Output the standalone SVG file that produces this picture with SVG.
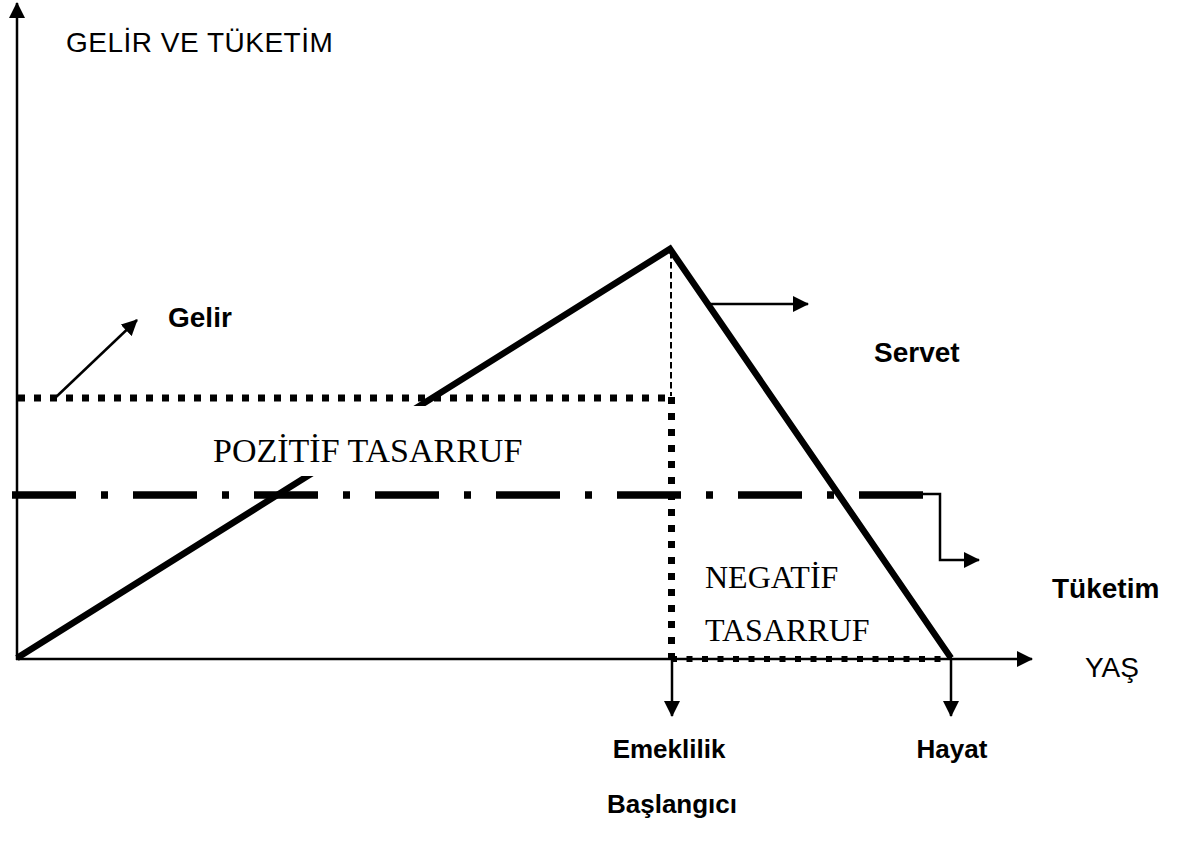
<svg xmlns="http://www.w3.org/2000/svg" width="1193" height="843" viewBox="0 0 1193 843">
<style>
.ax{stroke:#000;stroke-width:2.5;fill:none}
.thin{stroke:#000;stroke-width:2.5;fill:none}
.thick{stroke:#000;stroke-width:6.5;fill:none;stroke-linejoin:miter}
.dot{stroke:#000;stroke-width:7;fill:none;stroke-dasharray:7 9}
.dash{stroke:#000;stroke-width:2;fill:none;stroke-dasharray:6.5 3.5}
.dd{stroke:#000;stroke-width:7.5;fill:none;stroke-dasharray:64 25 7 25}
.sans{font-family:"Liberation Sans",Arial,sans-serif;font-size:28px;fill:#000}
.b{font-weight:bold}
.sm{font-size:26px}
.serif{font-family:"Liberation Serif","Times New Roman",serif;font-size:32px;fill:#000}
.big{font-size:34px}
</style>
<defs>
<marker id="ah" markerUnits="userSpaceOnUse" markerWidth="16" markerHeight="16" refX="15" refY="8" orient="auto" viewBox="0 0 16 16">
<path d="M0,0 L16,8 L0,16 z" fill="#000"/>
</marker>
</defs>
<rect width="1193" height="843" fill="#fff"/>
<g id="connectors">
<line class="ax" x1="17" y1="660" x2="17" y2="3" marker-end="url(#ah)"/>
<line class="ax" x1="16" y1="659" x2="1032" y2="659" marker-end="url(#ah)"/>
<line class="dash" x1="671" y1="252" x2="671" y2="396"/>
<path class="dd" d="M12,495 H923"/>
<path class="thick" d="M17,658 L670,249 L951,658"/>
<rect x="196" y="406" width="344" height="70" fill="#fff"/>
<line class="dot" x1="18" y1="398" x2="671" y2="398"/>
<line class="dot" x1="671.5" y1="397" x2="671.5" y2="660"/>
<line class="dot" x1="671" y1="659" x2="952" y2="659" style="stroke-width:6;stroke-dasharray:6 9.5"/>
<line class="thin" x1="55" y1="398" x2="137" y2="320" marker-end="url(#ah)"/>
<line class="thin" x1="708" y1="304" x2="808" y2="304" marker-end="url(#ah)"/>
<path class="thin" d="M922,494 H940 V560 H979" marker-end="url(#ah)"/>
<line class="thin" x1="672" y1="659" x2="672" y2="716" marker-end="url(#ah)"/>
<line class="thin" x1="951" y1="659" x2="951" y2="716" marker-end="url(#ah)"/>
</g>
<g id="label-axis-y"><text class="sans" x="66" y="52" letter-spacing="0.5">GELİR VE TÜKETİM</text></g>
<g id="label-gelir"><text class="sans b" x="168" y="327">Gelir</text></g>
<g id="label-servet"><text class="sans b" x="874" y="362">Servet</text></g>
<g id="label-tuketim"><text class="sans b" x="1052" y="598">Tüketim</text></g>
<g id="label-yas"><text class="sans" x="1085" y="677">YAŞ</text></g>
<g id="label-emeklilik"><text class="sans b sm" x="669" y="758" text-anchor="middle">Emeklilik</text><text class="sans b sm" x="672" y="813" text-anchor="middle">Başlangıcı</text></g>
<g id="label-hayat"><text class="sans b sm" x="952" y="758" text-anchor="middle">Hayat</text></g>
<g id="label-pozitif"><text class="serif big" x="213" y="462">POZİTİF TASARRUF</text></g>
<g id="label-negatif"><text class="serif" x="705" y="588">NEGATİF</text><text class="serif" x="705" y="641">TASARRUF</text></g>
</svg>
